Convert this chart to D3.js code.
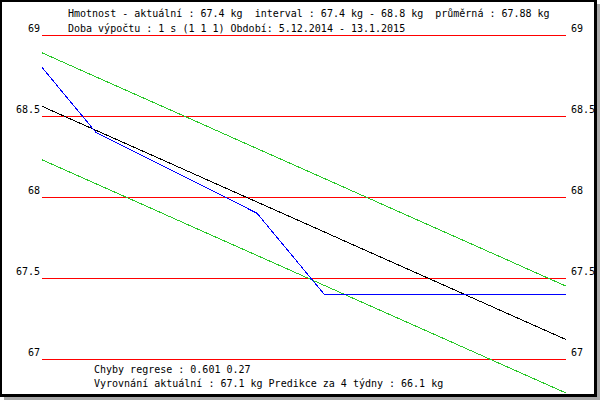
<!DOCTYPE html>
<html>
<head>
<meta charset="utf-8">
<script src="https://cdn.jsdelivr.net/npm/d3@7"></script>
<style>
  html, body { margin: 0; padding: 0; background: #fff; }
  svg { display: block; }
  text { font-family: "DejaVu Sans Mono", monospace; font-size: 10px; fill: #000; }
</style>
</head>
<body>
<svg id="vis" width="600" height="400"></svg>
<script>
// measured weights
var dates = ["2014-12-05", "2014-12-09", "2014-12-21", "2014-12-26", "2015-01-13"];
var weights = [68.8, 68.4, 67.9, 67.4, 67.4];

// regression line (start, end) and its error band
var regrDates = ["2014-12-05", "2015-01-13"];
var regrValues = [68.56, 67.12];
var bandWidth = 0.33;

var levels = [69, 68.5, 68, 67.5, 67];
var levelLabels = ["69", "68.5", "68", "67.5", "67"];

var headerLines = [
	"Hmotnost - aktuální : 67.4 kg  interval : 67.4 kg - 68.8 kg  průměrná : 67.88 kg",
	"Doba výpočtu : 1 s (1 1 1) Období: 5.12.2014 - 13.1.2015"
];
var footerLines = [
	"Chyby regrese : 0.601 0.27",
	"Vyrovnání aktuální : 67.1 kg Predikce za 4 týdny : 66.1 kg"
];

var parse = d3.timeParse("%Y-%m-%d");
var svg = d3.select("#vis");

// shadow + frame
svg.append("rect").attr("x", 4).attr("y", 4).attr("width", 596).attr("height", 396)
   .style("fill", "#a8a8a8");
svg.append("rect").attr("x", 0).attr("y", 0).attr("width", 597).attr("height", 397)
   .style("fill", "#000");
svg.append("rect").attr("x", 2).attr("y", 2).attr("width", 592).attr("height", 392)
   .style("fill", "#fff");

svg.append("clipPath").attr("id", "clip")
   .append("rect").attr("x", 2).attr("y", 2).attr("width", 592).attr("height", 392);

var x = d3.scaleTime()
          .domain([parse(regrDates[0]), parse(regrDates[1])])
          .range([42, 566]);
var y = d3.scaleLinear().domain([67, 69]).range([359, 35]);

var plot = svg.append("g").attr("clip-path", "url(#clip)");

// horizontal levels
plot.selectAll("line.level")
    .data(levels)
    .enter()
    .append("line")
    .attr("class", "level")
    .attr("x1", x.range()[0])
    .attr("x2", x.range()[1])
    .attr("y1", d => Math.round(y(d)) + 0.5)
    .attr("y2", d => Math.round(y(d)) + 0.5)
    .style("stroke", "#ff0000")
    .style("stroke-width", 1)
    .style("shape-rendering", "crispEdges");

plot.selectAll("text.lleft")
    .data(levels)
    .enter()
    .append("text")
    .attr("class", "lleft")
    .attr("x", 40)
    .attr("y", d => Math.round(y(d)) - 3)
    .attr("text-anchor", "end")
    .text((d, i) => levelLabels[i]);

plot.selectAll("text.lright")
    .data(levels)
    .enter()
    .append("text")
    .attr("class", "lright")
    .attr("x", 571)
    .attr("y", d => Math.round(y(d)) - 3)
    .text((d, i) => levelLabels[i]);

var line = d3.line()
             .x(d => x(d.date))
             .y(d => y(d.v));

var regr = regrDates.map((d, i) => ({date: parse(d), v: regrValues[i]}));

// error band
[bandWidth, -bandWidth].forEach(off => {
	plot.append("path")
	    .datum(regr.map(d => ({date: d.date, v: d.v + off})))
	    .attr("d", line)
	    .style("fill", "none")
	    .style("stroke", "rgb(40,200,40)")
	    .style("stroke-width", 1)
	    .style("shape-rendering", "crispEdges");
});

// regression
plot.append("path")
    .datum(regr)
    .attr("d", line)
    .style("fill", "none")
    .style("stroke", "#000")
    .style("stroke-width", 1)
    .style("shape-rendering", "crispEdges");

// weights
plot.append("path")
    .datum(dates.map((d, i) => ({date: parse(d), v: weights[i]})))
    .attr("d", line)
    .style("fill", "none")
    .style("stroke", "#0000ff")
    .style("stroke-width", 1)
    .style("shape-rendering", "crispEdges");

svg.selectAll("text.head")
   .data(headerLines)
   .enter()
   .append("text")
   .attr("class", "head")
   .attr("x", 68)
   .attr("y", (d, i) => 17 + i * 15)
   .style("white-space", "pre")
   .text(d => d);

svg.selectAll("text.foot")
   .data(footerLines)
   .enter()
   .append("text")
   .attr("class", "foot")
   .attr("x", 94)
   .attr("y", (d, i) => 373 + i * 14)
   .style("white-space", "pre")
   .text(d => d);
</script>
</body>
</html>
